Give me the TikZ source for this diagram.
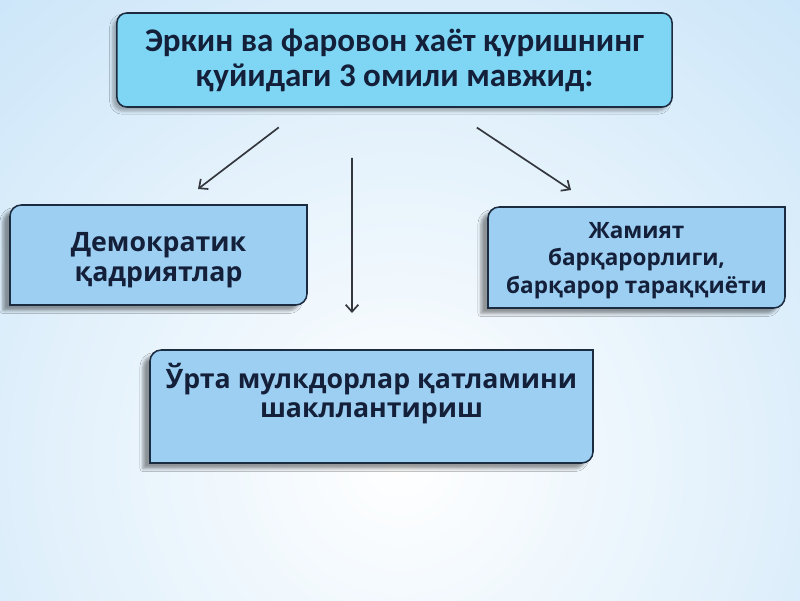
\documentclass[tikz,border=0pt]{standalone}
\usepackage{fontspec}
\setmainfont{Open Sans}
\newfontfamily\headfont{Carlito}
\usetikzlibrary{arrows.meta,positioning,shadows.blur}

\definecolor{bgblue}{HTML}{A8D4F4}
\definecolor{topfill}{HTML}{7ED6F4}
\definecolor{boxfill}{HTML}{9DCFF2}
\definecolor{boxline}{HTML}{1B2B40}
\definecolor{inkcol}{HTML}{14203A}
\definecolor{arrowcol}{HTML}{34373D}

\begin{document}
\begin{tikzpicture}[x=0.025cm,y=0.025cm,
    topbox/.style={rectangle,rounded corners=7pt,draw=boxline,line width=1.1pt,fill=topfill,
      minimum width=13.875cm,minimum height=2.35cm,align=center,text=inkcol,
      font=\headfont\bfseries\fontsize{23.5}{25}\selectfont,
      blur shadow={shadow xshift=-3pt,shadow yshift=-3pt,shadow opacity=30}},
    factor/.style={rectangle,inner sep=0pt,anchor=base,align=center,text=inkcol,
      font=\bfseries\fontsize{19}{21.3}\selectfont},
    frame/.style={draw=boxline,line width=1.1pt,fill=boxfill,
      blur shadow={shadow xshift=-5pt,shadow yshift=-4pt,shadow opacity=40}},
    arrow/.style={-{Straight Barb[length=5pt,width=9pt]},draw=arrowcol,line width=1.2pt}]

    % background
    \fill[bgblue] (0,0) rectangle (800,600);
    \begin{scope}
        \clip (0,0) rectangle (800,600);
        \shade[inner color=white,outer color=bgblue] (400,140) circle (1050);
    \end{scope}
    \useasboundingbox (0,0) rectangle (800,600);

    \node[topbox] (top) at (394.5,540)
        {Эркин ва фаровон хаёт қуришнинг\\қуйидаги 3 омили мавжид:};

    % frames: top left and bottom right corners rounded
    \foreach \xa/\ya/\xb/\yb in {10/295/307/395, 488/292/785/393, 150/137/593/250}{
        \path[frame] (\xa,\ya) -- ([yshift=-8pt]\xa,\yb)
            arc[start angle=180,end angle=90,radius=8pt] -- (\xb,\yb)
            -- ([yshift=8pt]\xb,\ya)
            arc[start angle=0,end angle=-90,radius=8pt] -- cycle;
    }

    \node[factor] (left) at (158.5,319) {Демократик\\қадриятлар};
    \node[factor,font=\bfseries\fontsize{16}{19.5}\selectfont] (right) at (636.5,307)
        {Жамият\\барқарорлиги,\\барқарор тараққиёти};
    \node[factor,font=\bfseries\fontsize{19}{20}\selectfont] (bottom) at (371.5,183)
        {Ўрта мулкдорлар қатламини\\шакллантириш};

    \coordinate (tipL) at (198,411);
    \coordinate (tipM) at (352,287);
    \coordinate (tipR) at (571,410);
    \draw[arrow,shorten <=23pt] ([xshift=-2.25cm]top.south) -- (tipL);
    \draw[arrow,shorten <=35.6pt] ([xshift=-1.0625cm]top.south) -- (tipM);
    \draw[arrow,shorten <=25.5pt] ([xshift=1.3125cm]top.south) -- (tipR);
\end{tikzpicture}
\end{document}
